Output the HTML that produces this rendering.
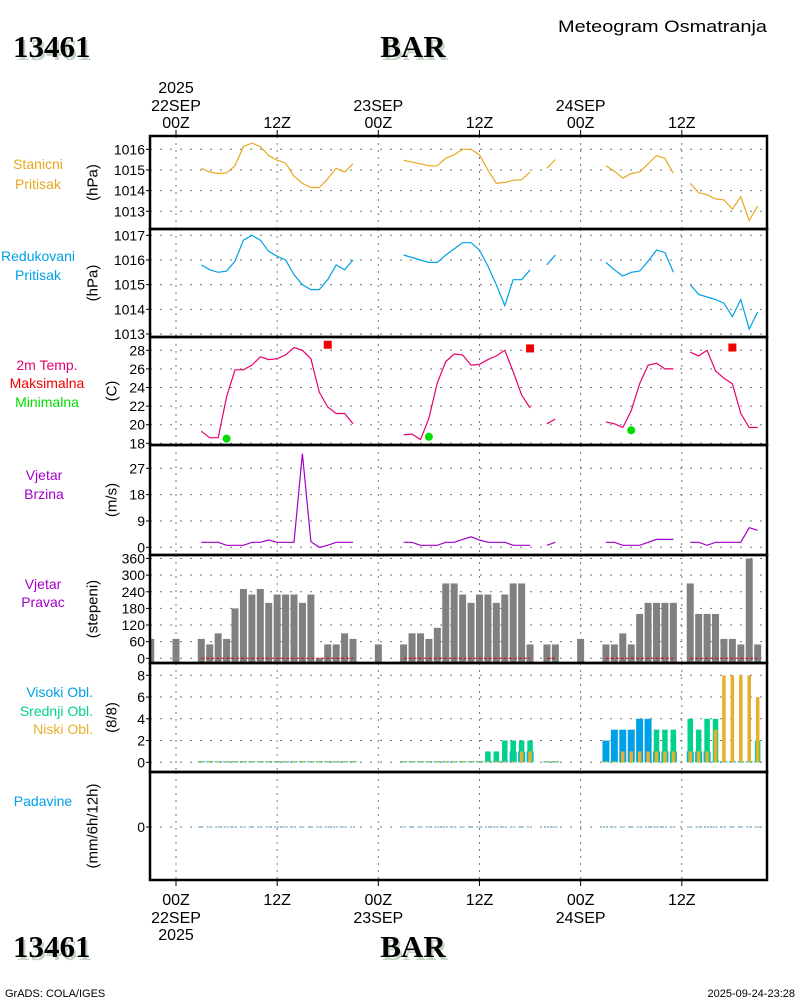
<!DOCTYPE html>
<html><head><meta charset="utf-8">
<style>
html,body{margin:0;padding:0;background:#fff;}
svg{display:block;font-family:"Liberation Sans",sans-serif;}
</style></head>
<body>
<svg id="chart" xmlns="http://www.w3.org/2000/svg" width="800" height="1000" viewBox="0 0 800 1000">
<g>
<text x="15" y="60" font-family="Liberation Serif,serif" font-weight="bold" font-size="31" fill="#c5d5c5">13461</text>
<text x="13" y="57" font-family="Liberation Serif,serif" font-weight="bold" font-size="31" fill="#000">13461</text>
<text x="415" y="60" text-anchor="middle" font-family="Liberation Serif,serif" font-weight="bold" font-size="31" fill="#c5d5c5">BAR</text>
<text x="413" y="57" text-anchor="middle" font-family="Liberation Serif,serif" font-weight="bold" font-size="31" fill="#000">BAR</text>
<text x="767" y="32" text-anchor="end" font-size="17" fill="#000" textLength="209" lengthAdjust="spacingAndGlyphs">Meteogram Osmatranja</text>
<text x="15" y="960" font-family="Liberation Serif,serif" font-weight="bold" font-size="31" fill="#c5d5c5">13461</text>
<text x="13" y="957" font-family="Liberation Serif,serif" font-weight="bold" font-size="31" fill="#000">13461</text>
<text x="415" y="960" text-anchor="middle" font-family="Liberation Serif,serif" font-weight="bold" font-size="31" fill="#c5d5c5">BAR</text>
<text x="413" y="957" text-anchor="middle" font-family="Liberation Serif,serif" font-weight="bold" font-size="31" fill="#000">BAR</text>
<text x="5" y="997" font-size="11" fill="#000">GrADS: COLA/IGES</text>
<text x="795" y="997" text-anchor="end" font-size="11" fill="#000">2025-09-24-23:28</text>
</g>
<g id="plot"></g>
</svg>
<script>
const _ = null;
// hours from -3 (22SEP 21Z-prev) to 69, one entry per hour
const startHour = -3;
const stationP = [_,_,_,_,_,_,
1015.08,1014.9,1014.83,1014.86,1015.2,1016.13,1016.3,1016.13,1015.7,1015.47,1015.33,1014.7,1014.35,1014.15,1014.15,1014.57,1015.08,1014.9,1015.3,
_,_,_,_,_,
1015.47,1015.38,1015.3,1015.2,1015.2,1015.57,1015.73,1016.0,1016.0,1015.73,1015.0,1014.35,1014.4,1014.5,1014.53,1014.9,
_,1015.08,1015.5,_,_,_,_,_,
1015.2,1014.94,1014.6,1014.83,1014.9,1015.3,1015.7,1015.57,1014.83,
_,1014.35,1013.9,1013.8,1013.6,1013.55,1013.1,1013.7,1012.55,1013.25];
const reducedP = [_,_,_,_,_,_,
1015.8,1015.6,1015.5,1015.55,1015.95,1016.8,1017.0,1016.8,1016.35,1016.15,1016.0,1015.4,1015.0,1014.8,1014.8,1015.2,1015.8,1015.6,1016.0,
_,_,_,_,_,
1016.2,1016.1,1016.0,1015.9,1015.9,1016.2,1016.45,1016.7,1016.7,1016.4,1015.75,1015.0,1014.15,1015.2,1015.2,1015.6,
_,1015.8,1016.2,_,_,_,_,_,
1015.9,1015.6,1015.35,1015.5,1015.55,1015.95,1016.4,1016.3,1015.5,
_,1015.0,1014.6,1014.5,1014.4,1014.25,1013.7,1014.4,1013.2,1013.9];
const temp = [_,_,_,_,_,_,
19.3,18.6,18.6,23,25.9,25.9,26.4,27.3,27.0,27.1,27.5,28.3,28,27.1,23.5,21.9,21.2,21.2,20.1,
_,_,_,_,_,
18.9,19,18.4,20.7,24.5,26.8,27.6,27.5,26.4,26.5,27.0,27.4,28,25.7,23.2,21.8,
_,20.1,20.6,_,_,_,_,_,
20.3,20.1,19.7,21.5,24.4,26.4,26.6,26,26,
_,27.8,27.4,28,25.8,25,24.4,21.2,19.7,19.7];
const maxHours = [18, 42, 66];
const maxTemps = [28.6, 28.2, 28.3];
const minHours = [6, 30, 54];
const minTemps = [18.5, 18.7, 19.4];
const windSpd = [_,_,_,_,_,_,
1.7,1.7,1.7,0.7,0.7,0.7,1.7,1.7,2.5,1.7,1.7,1.7,32,1.9,0,0.7,1.7,1.7,1.7,
_,_,_,_,_,
1.7,1.7,0.7,0.7,0.7,1.7,1.7,2.7,3.6,2.5,1.7,1.7,1.7,0.7,0.7,0.7,
_,0.7,1.7,_,_,_,_,_,
1.7,1.7,0.7,0.7,0.7,1.7,2.7,2.7,2.7,
_,1.7,1.7,0.7,1.7,1.7,1.7,1.7,6.7,5.8];
const windDir = [70,_,_,70,_,_,
70,50,90,70,180,250,230,250,200,230,230,230,200,230,0,50,50,90,70,
_,_,50,_,_,
50,90,90,70,110,270,270,230,200,230,230,200,230,270,270,50,
_,50,50,_,_,70,_,_,
50,50,90,50,160,200,200,200,200,
_,270,160,160,160,70,70,50,360,50];
const cloudHigh = [_,_,_,_,_,_,
0,0,0,0,0,0,0,0,0,0,0,0,0,0,0,0,0,0,0,
_,_,_,_,_,
0,0,0,0,0,0,0,0,0,0,0,0,0,1,1,1,
_,0,0,_,_,_,_,_,
2,3,3,3,4,4,1,1,1,
_,1,1,1,0,0,0,0,0,0];
const cloudMid = [_,_,_,_,_,_,
0,0,0,0,0,0,0,0,0,0,0,0,0,0,0,0,0,0,0,
_,_,_,_,_,
0,0,0,0,0,0,0,0,0,0,1,1,2,2,2,2,
_,0,0,_,_,_,_,_,
0,0,0,0,0,0,3,3,3,
_,4,3,4,4,0,0,0,0,2];
const cloudLow = [_,_,_,_,_,_,
0,0,0,0,0,0,0,0,0,0,0,0,0,0,0,0,0,0,0,
_,_,_,_,_,
0,0,0,0,0,0,0,0,0,0,0,0,0,0,1,1,
_,0,0,_,_,_,_,_,
0,0,1,1,1,1,1,1,1,
_,1,1,1,3,8,8,8,8,6];
const precip = [_,_,_,_,_,_,
0,0,0,0,0,0,0,0,0,0,0,0,0,0,0,0,0,0,0,
_,_,_,_,_,
0,0,0,0,0,0,0,0,0,0,0,0,0,0,0,0,
_,0,0,_,_,_,_,_,
0,0,0,0,0,0,0,0,0,
_,0,0,0,0,0,0,0,0,0];
const gridHours = [0,12,24,36,48,60];
const topTimeLabels = [["2025","22SEP","00Z"],["","","12Z"],["","23SEP","00Z"],["","","12Z"],["","24SEP","00Z"],["","","12Z"]];
const bottomTimeLabels = [["00Z","22SEP","2025"],["12Z","",""],["00Z","23SEP",""],["12Z","",""],["00Z","24SEP",""],["12Z","",""]];

const NS = "http://www.w3.org/2000/svg";
const plot = document.getElementById('plot');
const L = 150, R = 767;
const x = h => 176 + (h) * 8.43;
function el(tag, attrs, parent, txt) {
  const e = document.createElementNS(NS, tag);
  for (const k in attrs) e.setAttribute(k, attrs[k]);
  if (txt !== undefined) e.textContent = txt;
  (parent || plot).appendChild(e);
  return e;
}
function scale(v0, y0, v1, y1) { return v => y0 + (v - v0) * (y1 - y0) / (v1 - v0); }

const panels = [
  {name:'station-pressure', top:136, bot:229, y:scale(1016,149.3,1013,211.3), ticks:[1013,1014,1015,1016], unit:'(hPa)', ux:93,
   labels:[['Stanicni','#e6a820'],['Pritisak','#e6a820']], lx:38, ly:[169,189], anchor:'middle'},
  {name:'reduced-pressure', top:229, bot:337, y:scale(1017,235.3,1013,334), ticks:[1013,1014,1015,1016,1017], unit:'(hPa)', ux:93,
   labels:[['Redukovani','#00a0e6'],['Pritisak','#00a0e6']], lx:38, ly:[261,280], anchor:'middle'},
  {name:'temperature', top:337, bot:445, y:scale(28,350.3,18,443.3), ticks:[18,20,22,24,26,28], unit:'(C)', ux:112,
   labels:[['2m Temp.','#e6006e'],['Maksimalna','#f00000'],['Minimalna','#00dc00']], lx:47, ly:[370,388,407], anchor:'middle'},
  {name:'wind-speed', top:445, bot:555, y:scale(0,547.3,27,468.3), ticks:[0,9,18,27], unit:'(m/s)', ux:112,
   labels:[['Vjetar','#a000c8'],['Brzina','#a000c8']], lx:44, ly:[480,499], anchor:'middle'},
  {name:'wind-direction', top:555, bot:663, y:scale(0,658.3,360,558.5), ticks:[0,60,120,180,240,300,360], unit:'(stepeni)', ux:93,
   labels:[['Vjetar','#a000c8'],['Pravac','#a000c8']], lx:43, ly:[589,607], anchor:'middle'},
  {name:'clouds', top:663, bot:772, y:scale(0,762.3,8,675.3), ticks:[0,2,4,6,8], unit:'(8/8)', ux:112,
   labels:[['Visoki Obl.','#00a0e6'],['Srednji Obl.','#00d28c'],['Niski Obl.','#e6af2d']], lx:93, ly:[697,716,734], anchor:'end'},
  {name:'precipitation', top:772, bot:880, y:scale(0,827,1,800), ticks:[0], unit:'(mm/6h/12h)', ux:93,
   labels:[['Padavine','#00a0e6']], lx:43, ly:[806], anchor:'middle'}
];

// grid + ticks
panels.forEach(p => {
  const g = el('g', {});
  
  
  gridHours.forEach(h => {
    const ln = el('line', {x1:x(h), x2:x(h), y1:p.top, y2:p.bot, stroke:'#777', 'stroke-width':1, 'stroke-dasharray':'2,5'}, g);
    
    
  });
  p.ticks.forEach(t => {
    const yy = p.y(t);
    const ln = el('line', {x1:L, x2:R, y1:yy, y2:yy, stroke:'#777', 'stroke-width':1, 'stroke-dasharray':'2,8'}, g);
    
    
    const tk = el('line', {x1:L-4, x2:L, y1:yy, y2:yy, stroke:'#000', 'stroke-width':1}, g);
    
    
    const tx = el('text', {x:L-5, y:yy+5, 'text-anchor':'end', 'font-size':14, fill:'#000'}, g, String(t));
    
    
  });
  const cy = (p.top + p.bot) / 2;
  const ut = el('text', {x:p.ux, y:cy, transform:`rotate(-90 ${p.ux} ${cy})`, 'text-anchor':'middle', 'font-size':15, fill:'#000', 'dominant-baseline':'central'}, g, p.unit);
  
  
  p.labels.forEach((lb, i) => {
    const t = el('text', {x:p.lx, y:p.ly[i], 'text-anchor':p.anchor, 'font-size':14, fill:lb[1]}, g, lb[0]);
    
    
  });
});

function line(arr, p, color, name) {
  let pts = [];
  const flush = () => {
    if (pts.length > 1) {
      const pl = el('polyline', {points:pts.join(' '), fill:'none', stroke:color, 'stroke-width':1.2});
      
      
    }
    pts = [];
  };
  arr.forEach((v, i) => {
    if (v === null) { flush(); return; }
    pts.push(x(startHour + i).toFixed(1) + ',' + p.y(v).toFixed(1));
  });
  flush();
}
line(stationP, panels[0], '#e6a820', 'station-pressure-line');
line(reducedP, panels[1], '#00a0e6', 'reduced-pressure-line');
line(temp, panels[2], '#e6006e', 'temperature-line');
line(windSpd, panels[3], '#a000c8', 'wind-speed-line');

maxHours.forEach((h, i) => {
  const r = el('rect', {x:x(h)-4, y:panels[2].y(maxTemps[i])-4, width:8, height:8, fill:'#f00000'});
  
  
});
minHours.forEach((h, i) => {
  const c = el('circle', {cx:x(h), cy:panels[2].y(minTemps[i]), r:4, fill:'#00dc00'});
  
  
});

// wind direction bars
const pd = panels[4];
windDir.forEach((v, i) => {
  if (v === null) return;
  const h = startHour + i;
  let x0 = x(h) - 3.5, x1 = x(h) + 3.5;
  x0 = Math.max(x0, L);
  const y0 = pd.y(v), yb = pd.bot;
  const r = el('rect', {x:x0, y:y0, width:x1-x0, height:yb-y0, fill:'#808080'});
  
  
});
// red zero dashes where wind data exist
(function(){
  let seg = null;
  const draw = (a, b) => {
    const ln = el('line', {x1:x(a), x2:x(b), y1:pd.y(0), y2:pd.y(0), stroke:'#e00000', 'stroke-width':1, 'stroke-dasharray':'3,2'});
    
    
  };
  windSpd.forEach((v, i) => {
    const h = startHour + i;
    if (v !== null) { if (seg === null) seg = [h, h]; else seg[1] = h; }
    else if (seg) { draw(seg[0], seg[1]); seg = null; }
  });
  if (seg) draw(seg[0], seg[1]);
})();

// clouds
const pc = panels[5];
function cloudBars(arr, w, color, name) {
  arr.forEach((v, i) => {
    if (v === null) return;
    const h = startHour + i;
    const y0 = pc.y(v), y1 = pc.y(0);
    const hh = Math.max(y1 - y0, 1);
    const r = el('rect', {x:x(h)-w/2, y:y1-hh, width:w, height:hh, fill:color});
    
    
  });
}
cloudBars(cloudHigh, 7, '#00a0e6', 'high-cloud-bar');
cloudBars(cloudMid, 5.5, '#00d28c', 'mid-cloud-bar');
cloudBars(cloudLow, 3.5, '#e6af2d', 'low-cloud-bar');

// precipitation
const pp = panels[6];
precip.forEach((v, i) => {
  if (v === null) return;
  const h = startHour + i;
  const ln = el('line', {x1:x(h)-3, x2:x(h)+3, y1:pp.y(v), y2:pp.y(v), stroke:'#4a90b8', 'stroke-width':1, 'stroke-dasharray':'2,1'});
  
  
});

// frames
panels.forEach(p => {
  const r = el('rect', {x:L, y:p.top, width:R-L, height:p.bot-p.top, fill:'none', stroke:'#000', 'stroke-width':2.5});
  
  
});

// time axes
gridHours.forEach((h, i) => {
  const tk = el('line', {x1:x(h), x2:x(h), y1:130, y2:136, stroke:'#000', 'stroke-width':1});
  
  
  const tb = el('line', {x1:x(h), x2:x(h), y1:880, y2:886, stroke:'#000', 'stroke-width':1});
  
  
  [93, 111, 128].forEach((yy, k) => {
    const s = topTimeLabels[i][k];
    if (!s) return;
    const t = el('text', {x:x(h), y:yy, 'text-anchor':'middle', 'font-size':16, fill:'#000'}, null, s);
    
    
  });
  [905, 923, 940].forEach((yy, k) => {
    const s = bottomTimeLabels[i][k];
    if (!s) return;
    const t = el('text', {x:x(h), y:yy, 'text-anchor':'middle', 'font-size':16, fill:'#000'}, null, s);
    
    
  });
});
</script>
</body></html>
